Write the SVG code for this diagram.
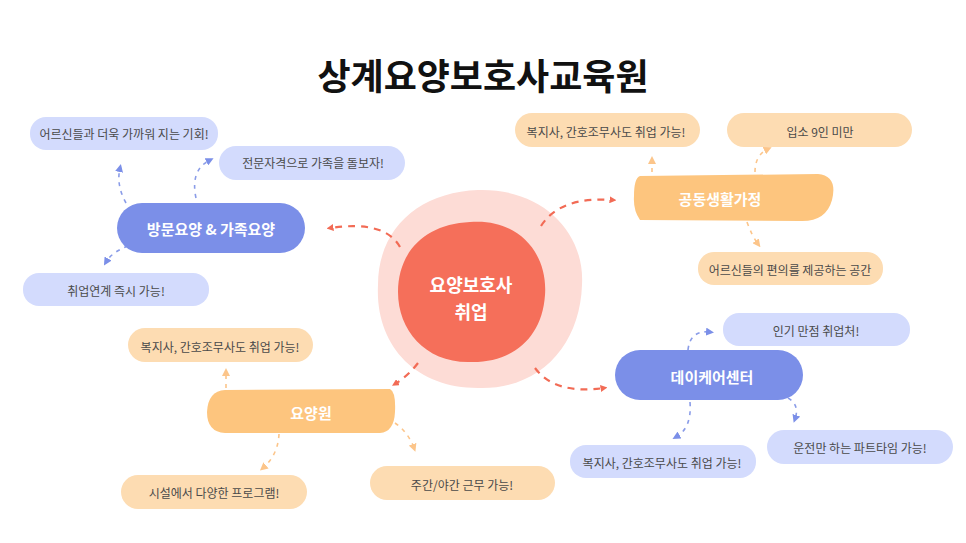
<svg xmlns="http://www.w3.org/2000/svg" width="966" height="543" viewBox="0 0 966 543">
<style>
text{font-family:"Noto Sans CJK KR","Noto Sans",sans-serif;text-anchor:middle;dominant-baseline:central}
.leaf{font-size:12px;fill:#4a4a4a}
.main{font-size:15px;font-weight:bold;fill:#fff}
.lb{fill:#d3dbfd}.lo{fill:#fddcb2}.mb{fill:#7b8fe8}.mo{fill:#fdc57e}
.cr{fill:none;stroke:#f26b55;stroke-width:2.2;stroke-dasharray:7 6}
.cb{fill:none;stroke:#8a9ce8;stroke-width:1.6;stroke-dasharray:4 5}
.co{fill:none;stroke:#fcc58a;stroke-width:1.6;stroke-dasharray:4 5}
</style>
<defs>
<marker id="ar" viewBox="0 0 10 10" refX="5" refY="5" markerWidth="7" markerHeight="7" markerUnits="userSpaceOnUse" orient="auto"><path d="M0,0L10,5L0,10z" fill="#f26b55" transform="scale(1)"/></marker>
<marker id="ab" viewBox="0 0 10 10" refX="5" refY="5" markerWidth="8" markerHeight="8" markerUnits="userSpaceOnUse" orient="auto"><path d="M0,0L10,5L0,10z" fill="#7b8fe8"/></marker>
<marker id="ao" viewBox="0 0 10 10" refX="5" refY="5" markerWidth="8" markerHeight="8" markerUnits="userSpaceOnUse" orient="auto"><path d="M0,0L10,5L0,10z" fill="#fcc58a"/></marker>
</defs>
<rect width="966" height="543" fill="#fff"/>
<text x="483" y="74" style="font-size:36px;font-weight:bold;fill:#111">상계요양보호사교육원</text>

<g id="center">
<path d="M478,190 C540,188 585,230 582,285 C580,345 540,390 478,388 C415,388 375,345 378,285 C378,228 420,192 478,190Z" fill="#fddcd6"/>
<path d="M470,222 C520,218 548,255 545,295 C542,340 510,364 468,362 C425,362 398,330 398,292 C398,252 425,224 470,222Z" fill="#f56f5a"/>
<text x="471" y="284" style="font-size:18px;font-weight:bold;fill:#fff">요양보호사</text>
<text x="471" y="311" style="font-size:18px;font-weight:bold;fill:#fff">취업</text>
</g>

<g id="connectors">
<path class="cr" d="M400,247 Q385,220 330,228" marker-end="url(#ar)"/>
<path class="cr" d="M541,226 Q560,196 613,200" marker-end="url(#ar)"/>
<path class="cr" d="M535,368 Q555,395 604,388" marker-end="url(#ar)"/>
<path class="cr" d="M418,363 Q408,376 395,384" marker-end="url(#ar)"/>
<path class="cb" d="M126,203 Q116,185 120,168" marker-end="url(#ab)"/>
<path class="cb" d="M196,198 Q190,170 210,160" marker-end="url(#ab)"/>
<path class="cb" d="M128,246 Q112,252 106,262" marker-end="url(#ab)"/>
<path class="co" d="M652,172 L652,160" marker-end="url(#ao)"/>
<path class="co" d="M755,172 Q755,155 768,149" marker-end="url(#ao)"/>
<path class="co" d="M747,222 Q752,236 758,244" marker-end="url(#ao)"/>
<path class="cb" d="M688,350 Q690,330 710,332" marker-end="url(#ab)"/>
<path class="cb" d="M788,398 Q800,405 795,419" marker-end="url(#ab)"/>
<path class="cb" d="M690,402 Q692,428 676,437" marker-end="url(#ab)"/>
<path class="co" d="M226,388 L226,372" marker-end="url(#ao)"/>
<path class="co" d="M279,434 Q278,455 263,468" marker-end="url(#ao)"/>
<path class="co" d="M395,423 Q408,432 414,448" marker-end="url(#ao)"/>
</g>

<g id="n-visit"><rect class="mb" x="117" y="203" width="188" height="50" rx="25"/><text class="main" x="211" y="228">방문요양 &amp; 가족요양</text></g>
<g id="n-group"><path class="mo" d="M640,176 L818,174 Q838,176 832,200 Q826,222 800,221 L640,220 Q633,210 634,196 Q634,178 640,176Z"/><text class="main" x="720" y="198">공동생활가정</text></g>
<g id="n-daycare"><rect class="mb" x="615" y="350" width="188" height="50" rx="25"/><text class="main" x="712" y="376">데이케어센터</text></g>
<g id="n-nursing"><path class="mo" d="M225,390 L390,389 Q396,392 395,412 Q394,432 380,433 L225,433 Q207,432 207,412 Q208,391 225,390Z"/><text class="main" x="311" y="412">요양원</text></g>

<g id="l1"><rect class="lb" x="30" y="117" width="188" height="33" rx="16"/><text class="leaf" x="124" y="133">어르신들과 더욱 가까워 지는 기회!</text></g>
<g id="l2"><rect class="lb" x="219" y="146" width="186" height="34" rx="17"/><text class="leaf" x="313" y="162">전문자격으로 가족을 돌보자!</text></g>
<g id="l3"><rect class="lb" x="23" y="273" width="186" height="33" rx="16"/><text class="leaf" x="116" y="290">취업연계 즉시 가능!</text></g>
<g id="l4"><rect class="lo" x="515" y="113" width="185" height="34" rx="17"/><text class="leaf" x="606" y="131">복지사, 간호조무사도 취업 가능!</text></g>
<g id="l5"><rect class="lo" x="727" y="113" width="185" height="34" rx="17"/><text class="leaf" x="820" y="131">입소 9인 미만</text></g>
<g id="l6"><rect class="lo" x="698" y="252" width="185" height="33" rx="16"/><text class="leaf" x="790" y="269">어르신들의 편의를 제공하는 공간</text></g>
<g id="l7"><rect class="lb" x="723" y="313" width="187" height="33" rx="16"/><text class="leaf" x="816" y="330">인기 만점 취업처!</text></g>
<g id="l8"><rect class="lb" x="767" y="430" width="186" height="34" rx="17"/><text class="leaf" x="860" y="447">운전만 하는 파트타임 가능!</text></g>
<g id="l9"><rect class="lb" x="570" y="445" width="186" height="33" rx="16"/><text class="leaf" x="662" y="462">복지사, 간호조무사도 취업 가능!</text></g>
<g id="l10"><rect class="lo" x="128" y="328" width="185" height="34" rx="17"/><text class="leaf" x="220" y="346">복지사, 간호조무사도 취업 가능!</text></g>
<g id="l11"><rect class="lo" x="121" y="475" width="186" height="34" rx="17"/><text class="leaf" x="214" y="492">시설에서 다양한 프로그램!</text></g>
<g id="l12"><rect class="lo" x="370" y="466" width="185" height="34" rx="17"/><text class="leaf" x="462" y="484">주간/야간 근무 가능!</text></g>
</svg>
